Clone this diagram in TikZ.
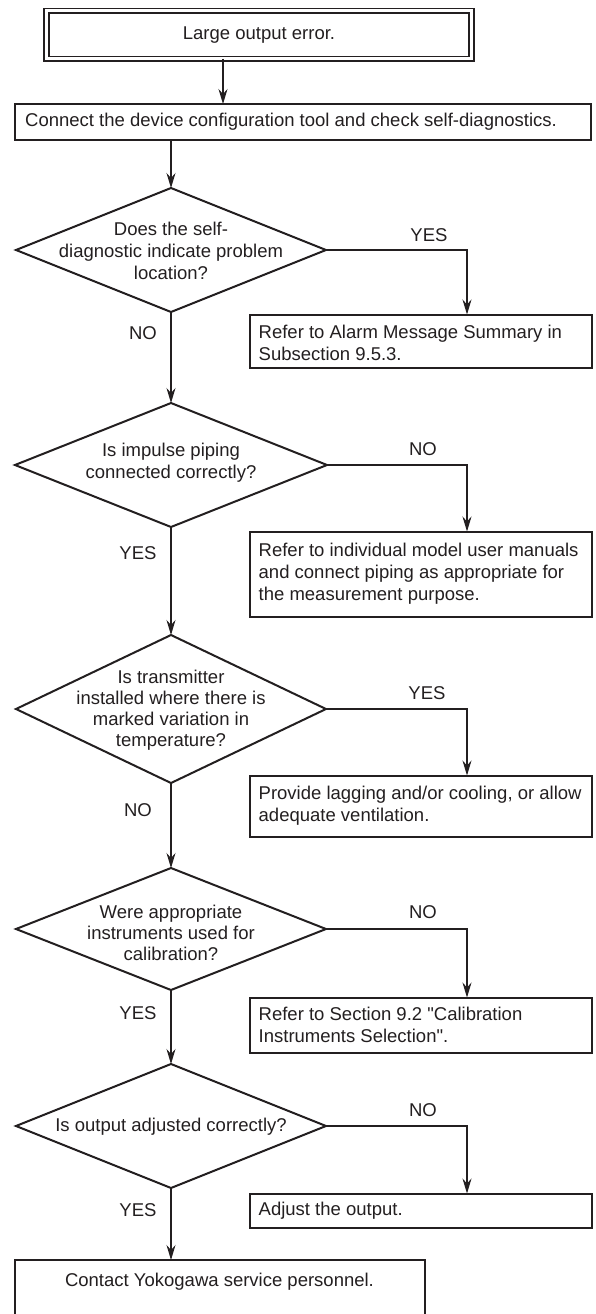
\documentclass[tikz,border=0pt]{standalone}
\usepackage{fontspec}
\setmainfont{Liberation Sans}[Ligatures=TeXOff]
\usetikzlibrary{arrows.meta,shapes.geometric,calc}
\definecolor{ink}{RGB}{35,31,32}
\begin{document}
\begin{tikzpicture}[x=1pt,y=-1pt,
  every node/.style={font=\fontsize{18.5}{22}\selectfont, text=ink},
  frame/.style={draw=ink, line width=2pt, rectangle, inner sep=0pt, outer sep=0pt},
  btext/.style={align=left, inner sep=0pt, anchor=west},
  decision/.style={draw=ink, line width=2pt, diamond, inner sep=0pt, outer sep=0pt},
  dtext/.style={align=center, inner sep=0pt},
  lbl/.style={inner sep=0pt},
  flow/.style={draw=ink, line width=1.1pt, -{Stealth[length=15pt,width=9pt,inset=5pt]}},
]
\fill[white] (0,0) rectangle (595,1314);
\clip (0,0) rectangle (595,1314);

% start
\node[draw=ink, line width=1.8pt, double, double distance=3pt, minimum width=425pt, minimum height=48pt, inner sep=0pt, outer sep=0pt] (top) at (259,35) {Large output error.};
\node[frame, minimum width=576pt, minimum height=36pt] (conn) at (303,122) {};
\node[btext] (connt) at (25,122) {Connect the device configuration tool and check self-diagnostics.};

% decision 1
\node[decision, minimum width=310pt, minimum height=124pt] (d1) at (171,250) {};
\node[dtext] (d1t) at (171,251) {Does the self-\\diagnostic indicate problem\\location?};
\node[lbl] (l1) at (429,235) {YES};
\node[frame, minimum width=342pt, minimum height=53pt] (b1) at (420.5,341) {};
\node[btext] (b1t) at (258.5,343) {Refer to Alarm Message Summary in\\Subsection 9.5.3.};
\node[lbl] (l2) at (143,333) {NO};

% decision 2
\node[decision, minimum width=312pt, minimum height=124pt] (d2) at (171,465) {};
\node[dtext] (d2t) at (171,463) {Is impulse piping\\connected correctly?};
\node[lbl] (l3) at (423,449) {NO};
\node[frame, minimum width=342pt, minimum height=85pt] (b2) at (420.5,574) {};
\node[btext] (b2t) at (258.5,574) {Refer to individual model user manuals\\and connect piping as appropriate for\\the measurement purpose.};
\node[lbl] (l4) at (138,553) {YES};

% decision 3
\node[decision, minimum width=310pt, minimum height=148pt] (d3) at (171,709) {};
\node[dtext, font=\fontsize{18.5}{21}\selectfont] (d3t) at (171,710) {Is transmitter\\installed where there is\\marked variation in\\temperature?};
\node[lbl] (l5) at (427,693) {YES};
\node[frame, minimum width=342pt, minimum height=61pt] (b3) at (420.5,806) {};
\node[btext] (b3t) at (258.5,806) {Provide lagging and/or cooling, or allow\\adequate ventilation.};
\node[lbl] (l6) at (138,810) {NO};

% decision 4
\node[decision, minimum width=310pt, minimum height=122pt] (d4) at (171,929) {};
\node[dtext, font=\fontsize{18.5}{21}\selectfont] (d4t) at (171,933) {Were appropriate\\instruments used for\\calibration?};
\node[lbl] (l7) at (423,912) {NO};
\node[frame, minimum width=342pt, minimum height=55pt] (b4) at (420.5,1025) {};
\node[btext] (b4t) at (258.5,1025) {Refer to Section 9.2 "Calibration\\Instruments Selection".};
\node[lbl] (l8) at (138,1013) {YES};

% decision 5
\node[decision, minimum width=310pt, minimum height=124pt] (d5) at (171,1126) {};
\node[dtext] (d5t) at (171,1127) {Is output adjusted correctly?};
\node[lbl] (l9) at (423,1110) {NO};
\node[frame, minimum width=342pt, minimum height=34pt] (b5) at (420.5,1210.5) {};
\node[btext] (b5t) at (258.5,1211) {Adjust the output.};
\node[lbl] (l10) at (138,1210) {YES};

% end
\node[frame, minimum width=410pt, minimum height=70pt, anchor=north] (cont) at (219.5,1260) {};
\node[dtext] (contt) at (219.5,1282) {Contact Yokogawa service personnel.};

% connectors
\draw[flow] ([xshift=-36pt]top.south) -- ([xshift=-36pt]top.south |- conn.north);
\draw[flow] (conn.south -| d1.north) -- (d1.north);
\draw[flow] (d1.east) -| ([xshift=46.5pt]b1.north);
\draw[flow] (d1.south) -- (d2.north);
\draw[flow] (d2.east) -| ([xshift=46.5pt]b2.north);
\draw[flow] (d2.south) -- (d3.north);
\draw[flow] (d3.east) -| ([xshift=46.5pt]b3.north);
\draw[flow] (d3.south) -- (d4.north);
\draw[flow] (d4.east) -| ([xshift=46.5pt]b4.north);
\draw[flow] (d4.south) -- (d5.north);
\draw[flow] (d5.east) -| ([xshift=46.5pt]b5.north);
\draw[flow] (d5.south) -- (d5.south |- cont.north);
\end{tikzpicture}
\end{document}
